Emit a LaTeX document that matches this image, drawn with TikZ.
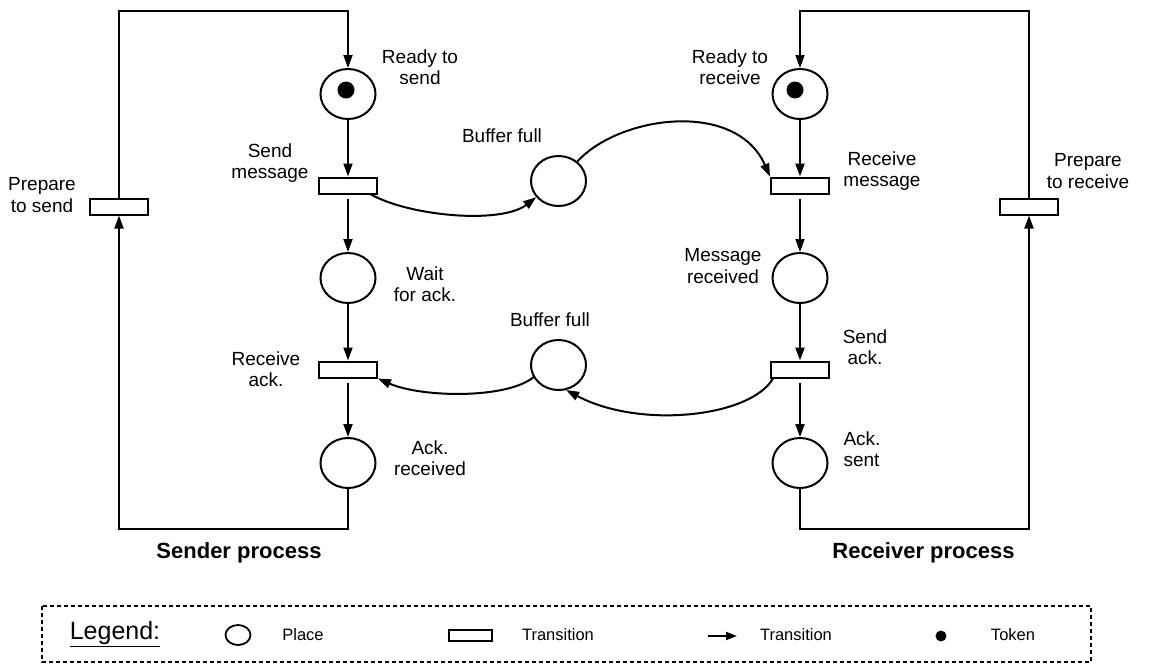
\documentclass[tikz,border=0pt]{standalone}
\usepackage{fontspec}
\setmainfont{Liberation Sans}
\usepackage{tikz}
\usetikzlibrary{arrows.meta}
\usetikzlibrary{shapes.geometric}

\tikzset{
  place/.style={draw, ellipse, line width=2pt, inner sep=0pt,
    minimum width=55pt, minimum height=50pt},
  trans/.style={draw, rectangle, line width=2pt, inner sep=0pt,
    minimum width=58pt, minimum height=16pt},
  token/.style={circle, fill, inner sep=0pt, minimum size=17pt},
  lbl/.style={align=center, font=\fontsize{19}{21.5}\selectfont},
  title/.style={font=\fontsize{22}{26}\selectfont\bfseries},
  legtxt/.style={font=\fontsize{16.5}{20}\selectfont},
  flow/.style={-{Triangle[length=13pt,width=9pt]}, line width=2pt},
}

\begin{document}
\begin{tikzpicture}[x=1pt, y=-1pt]
\useasboundingbox (0,0) rectangle (1154,664);

% Sender process
\node[place] (readyS) at (348,94) {};
\node[token] (tokS) at (346,90) {};
\node[trans] (sendMsg) at (348,185.5) {};
\node[place] (waitAck) at (348,278) {};
\node[trans] (recvAck) at (348,369.5) {};
\node[place] (ackRcv) at (348,463) {};
\node[trans] (prepS) at (119,206.5) {};

\node[lbl] (lReadyS) at (420,67) {Ready to\\send};
\node[lbl] (lSendMsg) at (270,163) {Send\\message};
\node[lbl] (lWaitAck) at (425,284) {Wait\\for ack.};
\node[lbl] (lRecvAck) at (266,369) {Receive\\ack.};
\node[lbl] (lAckRcv) at (430,458) {Ack.\\received};
\node[lbl] (lPrepS) at (42,195) {Prepare\\to send};
\node[title] (tSender) at (239,553) {Sender process};

% Buffers
\node[place] (bufA) at (558.5,181) {};
\node[place] (bufB) at (558.5,365) {};
\node[lbl] (lBufA) at (502,136) {Buffer full};
\node[lbl] (lBufB) at (550,320) {Buffer full};

% Receiver process
\node[place] (readyR) at (800,94) {};
\node[token] (tokR) at (795,90) {};
\node[trans] (recvMsg) at (800,185.5) {};
\node[place] (msgRcv) at (800,278) {};
\node[trans] (sendAck) at (800,369.5) {};
\node[place] (ackSent) at (800,463) {};
\node[trans] (prepR) at (1029,206.5) {};

\node[lbl] (lReadyR) at (730,67) {Ready to\\receive};
\node[lbl] (lRecvMsg) at (882,171) {Receive\\message};
\node[lbl] (lMsgRcv) at (723,266) {Message\\received};
\node[lbl] (lSendAck) at (865,347) {Send\\ack.};
\node[lbl, align=left] (lAckSent) at (862,449) {Ack.\\sent};
\node[lbl] (lPrepR) at (1088,171) {Prepare\\to receive};
\node[title] (tReceiver) at (923.5,553) {Receiver process};

\coordinate (topS) at (234,11);
\coordinate (botS) at (234,529);
\coordinate (topR) at (914,11);
\coordinate (botR) at (914,529);

% Sender arcs
\draw[flow] (readyS) -- (sendMsg);
\draw[flow, shorten <=4pt] (sendMsg) -- (waitAck);
\draw[flow] (waitAck) -- (recvAck);
\draw[flow, shorten <=4pt] (recvAck) -- (ackRcv);
\draw[flow] (ackRcv.south) |- (botS) -| (prepS.south);
\draw[flow] (prepS.north) |- (topS) -| (readyS.north);

% Receiver arcs
\draw[flow] (readyR) -- (recvMsg);
\draw[flow, shorten <=4pt] (recvMsg) -- (msgRcv);
\draw[flow] (msgRcv) -- (sendAck);
\draw[flow, shorten <=4pt] (sendAck) -- (ackSent);
\draw[flow] (ackSent.south) |- (botR) -| (prepR.south);
\draw[flow] (prepR.north) |- (topR) -| (readyR.north);

% Message and acknowledgement
\draw[flow] ([xshift=-7pt]sendMsg.south east) .. controls +(40,22) and +(-35,27) .. (bufA.216);
\draw[flow] (bufA.46) .. controls +(42,-46) and +(-34,-77) .. (recvMsg.north west);
\draw[flow] ([xshift=3pt]sendAck.south west) .. controls +(-23,39) and +(73,39) .. (bufB.287);
\draw[flow] (bufB.206) .. controls +(-27,22) and +(43,19) .. (recvAck.south east);

% Legend
\draw[line width=1.6pt, dash pattern=on 4pt off 3pt] (42,606) rectangle (1091,662);
\node[font=\fontsize{25}{30}\selectfont] (legTitle) at (115,634) {\underline{Legend:}};
\node[draw, ellipse, line width=1.8pt, inner sep=0pt, minimum width=25pt, minimum height=20pt] (legPlace) at (238,635) {};
\node[legtxt] (legPlaceTxt) at (303,635) {Place};
\node[draw, rectangle, line width=1.8pt, inner sep=0pt, minimum width=43pt, minimum height=11pt] (legTrans) at (470.5,635.5) {};
\node[legtxt] (legTransTxt) at (558,635) {Transition};
\coordinate (legArrA) at (708,636);
\coordinate (legArrB) at (737,636);
\draw[-{Triangle[length=11pt,width=8pt]}, line width=1.8pt] (legArrA) -- (legArrB);
\node[legtxt] (legArcTxt) at (796,635) {Transition};
\node[circle, fill, inner sep=0pt, minimum size=11pt] (legTok) at (941,636) {};
\node[legtxt] (legTokTxt) at (1013,635) {Token};
\end{tikzpicture}
\end{document}
